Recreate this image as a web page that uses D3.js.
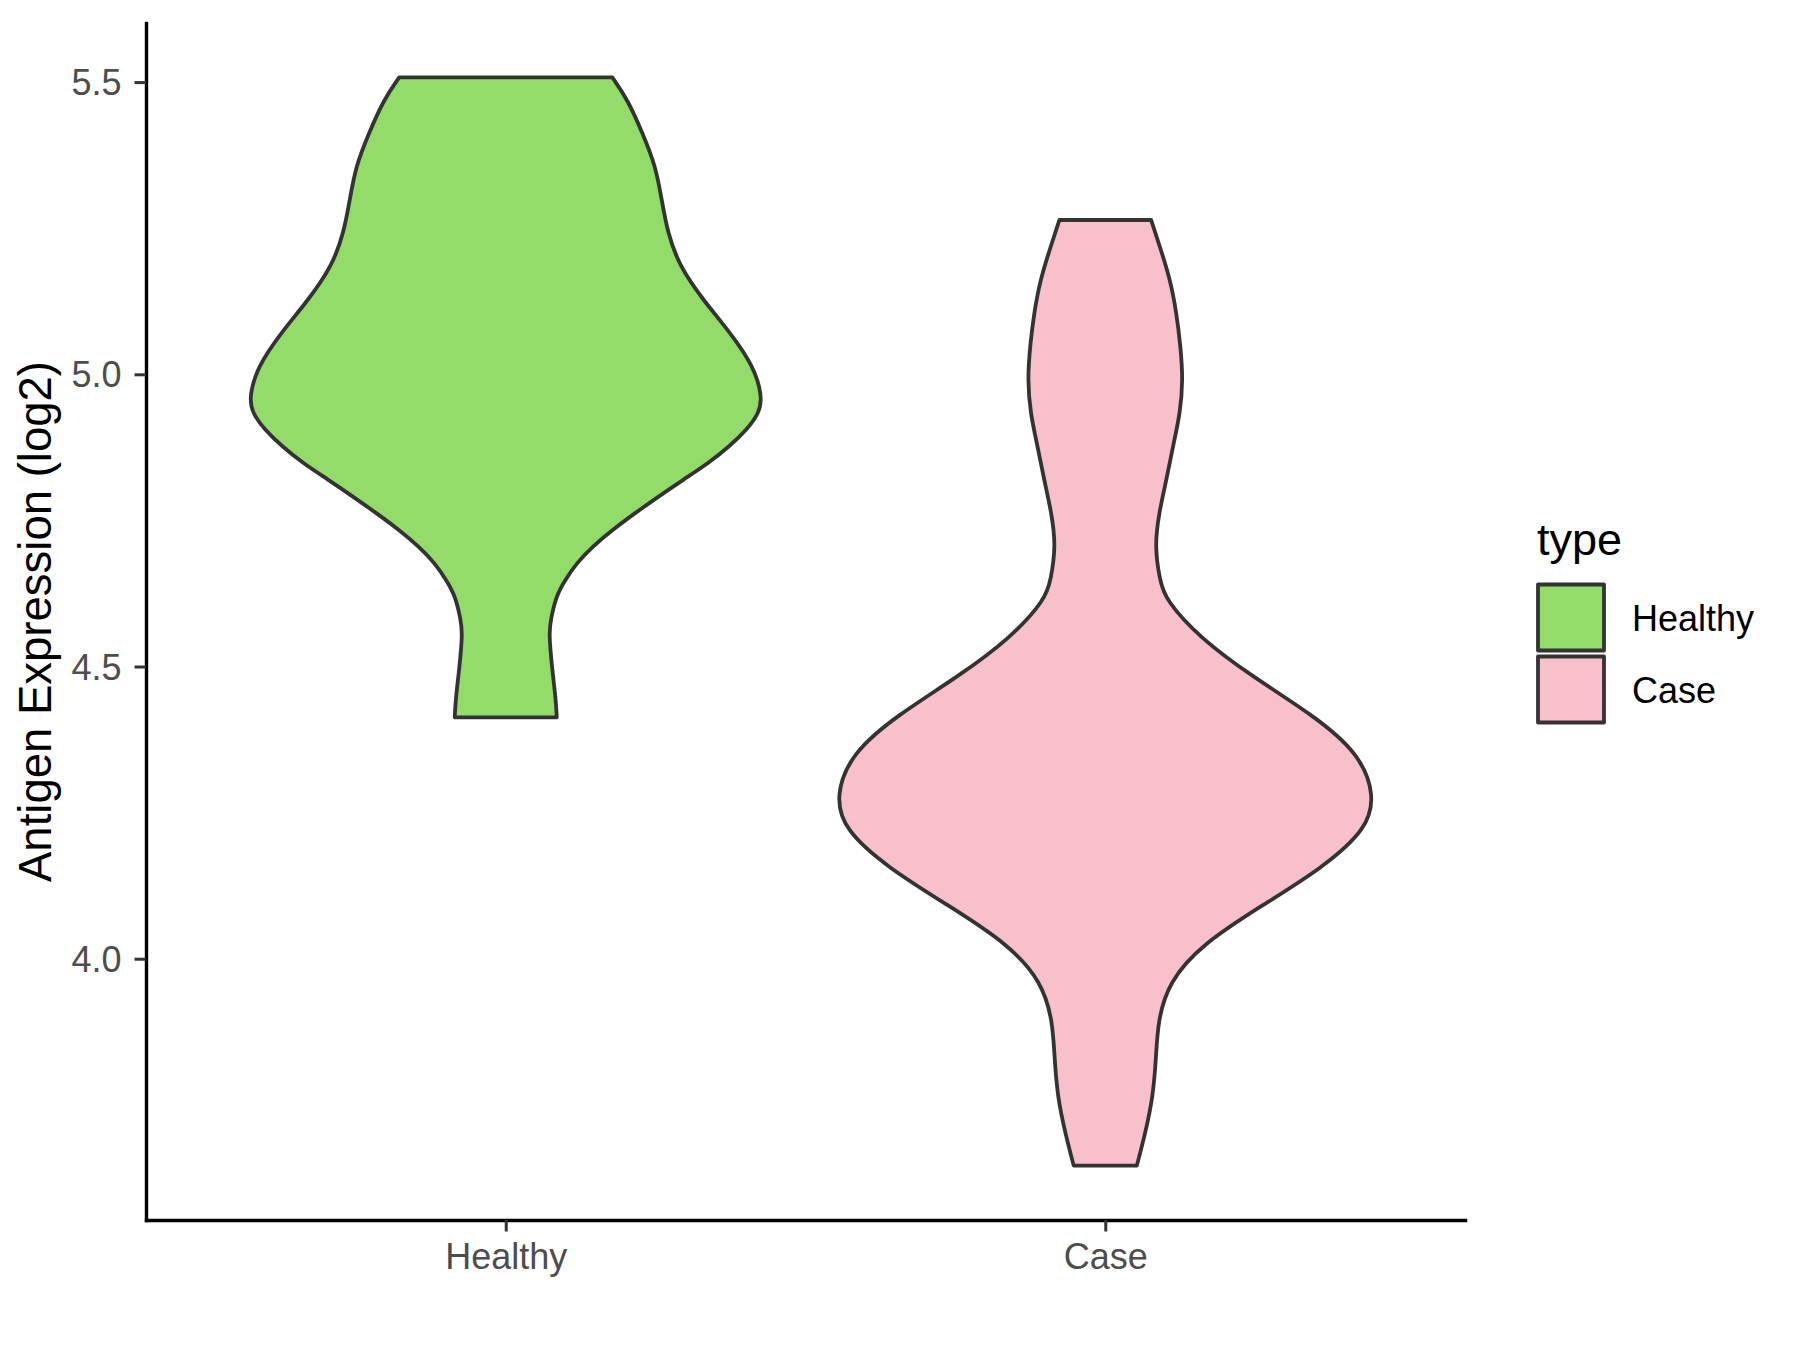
<!DOCTYPE html>
<html>
<head>
<meta charset="utf-8">
<script src="https://cdn.jsdelivr.net/npm/d3@7"></script>
<style>
  html, body { margin: 0; padding: 0; background: #ffffff; }
  svg { display: block; font-family: "Liberation Sans", Arial, sans-serif; }
</style>
</head>
<body>
<svg id="chart" width="1800" height="1350"></svg>
<script>
// ---- Data ----
const categories = ["Healthy", "Case"];
const fillColors = ["#93DC6A", "#F7C0CB"];
const yTicks = [4.0, 4.5, 5.0, 5.5];
const yTitle = "Antigen Expression (log2)";
const legendTitle = "type";

// Violin outlines: expression value and relative density (1 = widest violin)
const healthyValues = [5.508, 5.470, 5.413, 5.356, 5.299, 5.242, 5.185, 5.128, 5.071, 5.014,
  4.962, 4.934, 4.905, 4.877, 4.848, 4.820, 4.791, 4.763, 4.734, 4.705,
  4.677, 4.648, 4.620, 4.580, 4.558, 4.500, 4.443, 4.413];
const healthyDensity = [0.395, 0.452, 0.507, 0.556, 0.578, 0.600, 0.644, 0.730, 0.833, 0.919,
  0.951, 0.940, 0.893, 0.830, 0.752, 0.659, 0.567, 0.481, 0.396, 0.321,
  0.263, 0.220, 0.186, 0.167, 0.160, 0.171, 0.186, 0.189];

const caseValues = [5.264, 5.219, 5.162, 5.105, 5.048, 4.991, 4.934, 4.877, 4.820, 4.763,
  4.706, 4.648, 4.615, 4.549, 4.483, 4.417, 4.352, 4.280, 4.221, 4.155,
  4.091, 4.025, 3.960, 3.894, 3.829, 3.763, 3.697, 3.646];
const caseDensity = [0.170, 0.202, 0.241, 0.264, 0.279, 0.288, 0.278, 0.251, 0.227, 0.199,
  0.183, 0.202, 0.222, 0.350, 0.544, 0.770, 0.940, 1.000, 0.969, 0.804,
  0.581, 0.359, 0.235, 0.195, 0.188, 0.177, 0.146, 0.117];

const violins = [
  { cat: categories[0], values: healthyValues, density: healthyDensity, fill: fillColors[0] },
  { cat: categories[1], values: caseValues, density: caseDensity, fill: fillColors[1] }
];

// ---- Layout ----
const panel = { left: 146, right: 1465, top: 23, bottom: 1220 };
const svg = d3.select("#chart");
svg.append("rect").attr("width", 1800).attr("height", 1350).attr("fill", "#ffffff");

const allVals = healthyValues.concat(caseValues);
const [vmin, vmax] = d3.extent(allVals);
const pad = (vmax - vmin) * 0.05;

const y = d3.scaleLinear().domain([vmin - pad, vmax + pad]).range([panel.bottom, panel.top]);
const x = d3.scalePoint().domain(categories).range([panel.left, panel.right]).padding(0.6);
const w = d3.scaleLinear().domain([0, 1]).range([0, 0.45 * x.step()]);

// ---- Violins ----
const area = d3.area()
  .curve(d3.curveBasis)
  .y(d => y(d.v));

violins.forEach(vl => {
  const pts = vl.values.map((v, i) => ({ v: v, d: vl.density[i] }));
  const cx = x(vl.cat);
  area.x0(d => cx - w(d.d)).x1(d => cx + w(d.d));
  svg.append("path")
    .attr("d", area(pts))
    .attr("fill", vl.fill)
    .attr("stroke", "#333333")
    .attr("stroke-width", 3.8)
    .attr("stroke-linejoin", "round");
});

// ---- Axes ----
const yAxis = svg.append("g")
  .attr("transform", `translate(${panel.left},0)`)
  .call(d3.axisLeft(y).tickValues(yTicks).tickFormat(d3.format(".1f")).tickSize(11.5).tickSizeOuter(0).tickPadding(10));
const xAxis = svg.append("g")
  .attr("transform", `translate(0,${panel.bottom})`)
  .call(d3.axisBottom(x).tickSize(11.5).tickSizeOuter(0).tickPadding(10));

[yAxis, xAxis].forEach(g => {
  g.select(".domain").attr("stroke", "#000000").attr("stroke-width", 3.4).attr("stroke-linecap", "square");
  g.selectAll(".tick line").attr("stroke", "#333333").attr("stroke-width", 3);
  g.selectAll(".tick text")
    .attr("fill", "#4D4D4D")
    .attr("font-size", 36)
    .attr("font-family", "'Liberation Sans', Arial, sans-serif");
});
yAxis.selectAll(".tick text").attr("x", -24.5).attr("dy", "0.35em");
xAxis.selectAll(".tick text").attr("y", 22).attr("dy", "0.75em");

// ---- Y title ----
svg.append("text")
  .attr("transform", `translate(51,${(panel.top + panel.bottom) / 2}) rotate(-90)`)
  .attr("text-anchor", "middle")
  .attr("font-size", 45.5)
  .attr("fill", "#000000")
  .text(yTitle);

// ---- Legend ----
const legend = svg.append("g").attr("transform", "translate(1536,0)");
legend.append("text")
  .attr("x", 1)
  .attr("y", 555)
  .attr("font-size", 45)
  .attr("fill", "#000000")
  .text(legendTitle);

const keySize = 72;
const keyTop = 582;
categories.forEach((c, i) => {
  const ky = keyTop + i * keySize;
  legend.append("rect")
    .attr("x", 2).attr("y", ky + 2.5)
    .attr("width", 66).attr("height", 66)
    .attr("fill", fillColors[i])
    .attr("stroke", "#333333")
    .attr("stroke-width", 3.8)
    .attr("stroke-linejoin", "round");
  legend.append("text")
    .attr("x", 96)
    .attr("y", ky + keySize / 2)
    .attr("dy", "0.35em")
    .attr("font-size", 36)
    .attr("fill", "#000000")
    .text(c);
});
</script>
</body>
</html>
